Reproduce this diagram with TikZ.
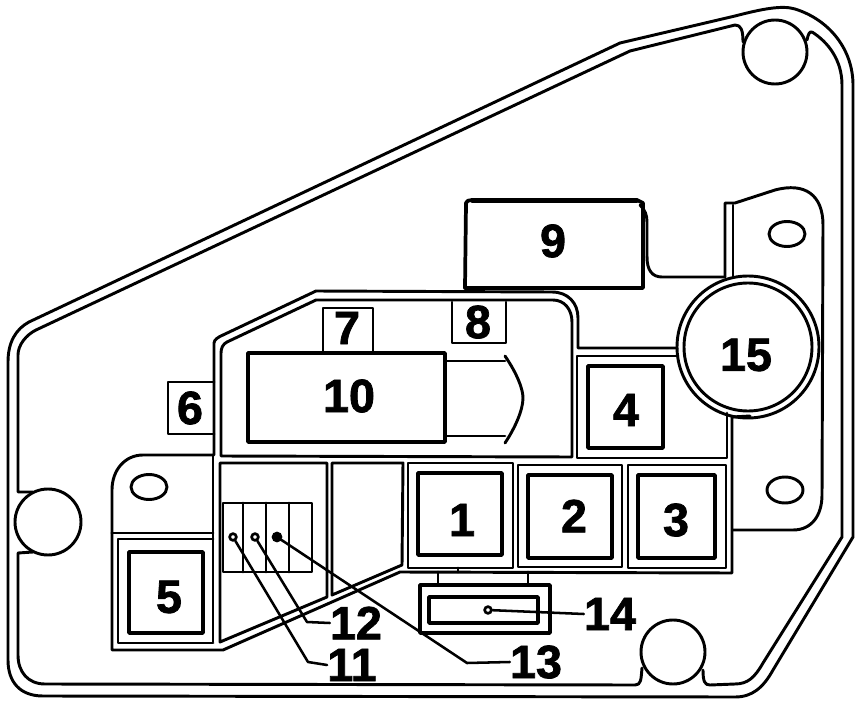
\documentclass[tikz,border=0pt]{standalone}
\usepackage{fontspec}
\setmainfont{Liberation Sans}
\newfontfamily\numfont[FakeBold=1.6]{Liberation Sans Bold}
\tikzset{
  ln/.style={line width=2.2pt,line join=round,line cap=round},
  thin ln/.style={line width=1.9pt,line join=round,line cap=round},
  thick ln/.style={line width=2.8pt,line join=round,line cap=round},
  num/.style={inner sep=0pt,font=\fontsize{35}{35}\selectfont\numfont},
  dotpt/.style={circle,draw,fill=white,line width=2pt,inner sep=0pt,minimum size=5pt},
  dotfull/.style={circle,draw,fill=black,line width=1pt,inner sep=0pt,minimum size=7pt}
}
\begin{document}
\begin{tikzpicture}[x=0.75pt,y=-0.75pt]
\useasboundingbox (0,0) rectangle (864,706);
\fill[white] (0,0) rectangle (864,706);
% outer contour
\draw[ln] (8,660) -- (8,362) .. controls (8,342) and (16,329) .. (29,322)
  -- (620,43) -- (735,16) .. controls (762,9) and (782,5) .. (795,9)
  .. controls (830,20) and (853,50) .. (853,85) -- (853,537) -- (773,670)
  .. controls (763,688) and (752,697) .. (735,697) -- (43,696)
  .. controls (20,696) and (8,682) .. (8,660);
% inner contour, broken by the three holes
\draw[ln] (812,32) .. controls (828,42) and (842,60) .. (842,85) -- (842,537) -- (763,663)
  .. controls (755,677) and (748,684) .. (735,684) -- (710,685)
  .. controls (705,685) and (703,682) .. (703,670);
\draw[ln] (642,668) .. controls (641,680) and (641,685) .. (635,685) -- (45,684)
  .. controls (28,684) and (18,672) .. (18,655) -- (18,553) -- (33,552);
\draw[ln] (33,492) -- (18,492) -- (18,355) .. controls (18,345) and (26,335) .. (36,330)
  -- (630,51) -- (735,25) .. controls (741,25) and (743,30) .. (743,42);
\draw[ln] (807,40) .. controls (808,34) and (810,31) .. (812,32);
% holes
\draw[ln] (775,52) circle (32);
\draw[ln] (673,652) circle (32);
\draw[ln] (48,522) circle (33);
% ovals
\draw[ln] (149,487) ellipse [x radius=18,y radius=12.5];
\draw[ln] (787,234) ellipse [x radius=18,y radius=12.5];
\draw[ln] (785,490) ellipse [x radius=18,y radius=13];
% right tab
\draw[ln] (725,277) -- (725,203) -- (735,203) -- (775,190)
  .. controls (805,182) and (823,195) .. (823,225) -- (822,495)
  .. controls (822,515) and (812,530) .. (793,530) -- (733,530);
\draw[ln] (733,205) -- (733,277);
\draw[ln] (647,257) .. controls (647,270) and (652,277) .. (662,277) -- (725,277);
% left tab
\draw[ln] (112,533) -- (112,490) .. controls (112,470) and (125,455) .. (143,455) -- (213,455);
\draw[ln] (112,533) -- (213,533);
% central block outlines
\draw[ln] (214,455) -- (214,343) .. controls (214,340) and (218,337) .. (223,335) -- (316,291)
  -- (552,292) .. controls (568,292) and (578,303) .. (578,318) -- (578,348) -- (677,348);
\draw[ln] (221,456) -- (221,353) .. controls (221,348) and (223,344) .. (227,342) -- (316,300)
  -- (553,300) .. controls (564,300) and (572,309) .. (572,322) -- (572,457) -- (221,456);
\draw[ln] (213,455) -- (213,642);
% box 5 group
\draw[ln] (112,533) -- (112,650) -- (223,650) -- (400,572) -- (732,573) -- (732,417) -- (750,416);
\draw[ln] (213,539) -- (118,539) -- (118,643) -- (213,643);
\draw[thick ln] (129,552) rectangle (203,633);
% compartments
\draw[ln] (220,463) -- (327,463) -- (327,597) -- (220,642) -- cycle;
\draw[ln] (332,463) -- (403,463) -- (402,565) -- (332,595) -- cycle;
% relays 1..4
\draw[ln] (408,463) rectangle (513,568);
\draw[thick ln] (418,473) rectangle (502,555);
\draw[ln] (518,465) rectangle (622,567);
\draw[thick ln] (528,475) rectangle (612,558);
\draw[ln] (628,465) rectangle (726,568);
\draw[thick ln] (638,475) rectangle (715,558);
\draw[ln] (678,356) -- (577,356) -- (577,458) -- (727,458) -- (727,413);
\draw[thick ln] (588,366) rectangle (663,448);
% fuse strip
\draw[ln] (223,503) rectangle (312,572);
\draw[ln] (243,503) -- (243,572) (266,503) -- (266,572) (289,503) -- (289,572);
% box 14
\draw[thick ln] (420,585) rectangle (550,633);
\draw[thick ln] (429,597) rectangle (538,623);
\draw[ln] (438,572) -- (438,585) (528,572) -- (528,585) (458,568) -- (458,572);
% small boxes
\draw[ln] (323,353) -- (323,308) -- (373,308) -- (373,353);
\draw[ln] (452,302) -- (452,343) -- (506,343) -- (506,302);
\draw[ln] (214,382) -- (168,382) -- (168,434) -- (214,434);
% box 9
\draw[thick ln] (465,288) -- (466,203) .. controls (466,201) and (469,200) .. (472,200) -- (637,200)
  -- (643,203) -- (643,288) -- cycle;
\draw[thick ln] (472,201.5) -- (637,201.5);
\draw[ln] (640,205) .. controls (645,210) and (647,215) .. (647,222) -- (647,257);
% box 10 with plug
\draw[thick ln] (248,353) rectangle (445,442);
\draw[ln] (445,361) -- (505,361);
\draw[ln] (445,436) -- (505,436);
\draw[ln] (505,356) .. controls (518,375) and (523,390) .. (523,398) .. controls (523,410) and (515,428) .. (505,443);
% big circle
\draw[ln] (748,347) circle (71);
\draw[ln] (748,347) circle (64);
% labels
\node[num] (n1) at (462,520) {1};
\node[num] (n2) at (574,516) {2};
\node[num] (n3) at (676,520) {3};
\node[num] (n4) at (626,410) {4};
\node[num] (n5) at (169,597) {5};
\node[num] (n6) at (190,408) {6};
\node[num] (n7) at (347,328) {7};
\node[num] (n8) at (478,322) {8};
\node[num] (n9) at (553,241) {9};
\node[num] (n10) at (349,396) {10};
\node[num] (n15) at (746,355) {15};
\node[num] (l12) at (356,623) {12};
\node[num] (l11) at (352,665) {11};
\node[num] (l13) at (536,662) {13};
\node[num] (l14) at (610,614) {14};
% leaders
\node[dotpt] (d11) at (233,537) {};
\node[dotpt] (d12) at (255,537) {};
\node[dotfull] (d13) at (277,537) {};
\node[dotpt] (d14) at (488,610) {};
\coordinate (b11) at (308,662);
\coordinate (b12) at (307,622);
\coordinate (b13) at (467,663);
\draw[thin ln] (d11) -- (b11) -- (l11.west);
\draw[thin ln] (d12) -- (b12) -- (l12.west);
\draw[thin ln] (d13) -- (b13) -- (l13.west);
\draw[thin ln] (d14) -- (l14.west);
\end{tikzpicture}
\end{document}
